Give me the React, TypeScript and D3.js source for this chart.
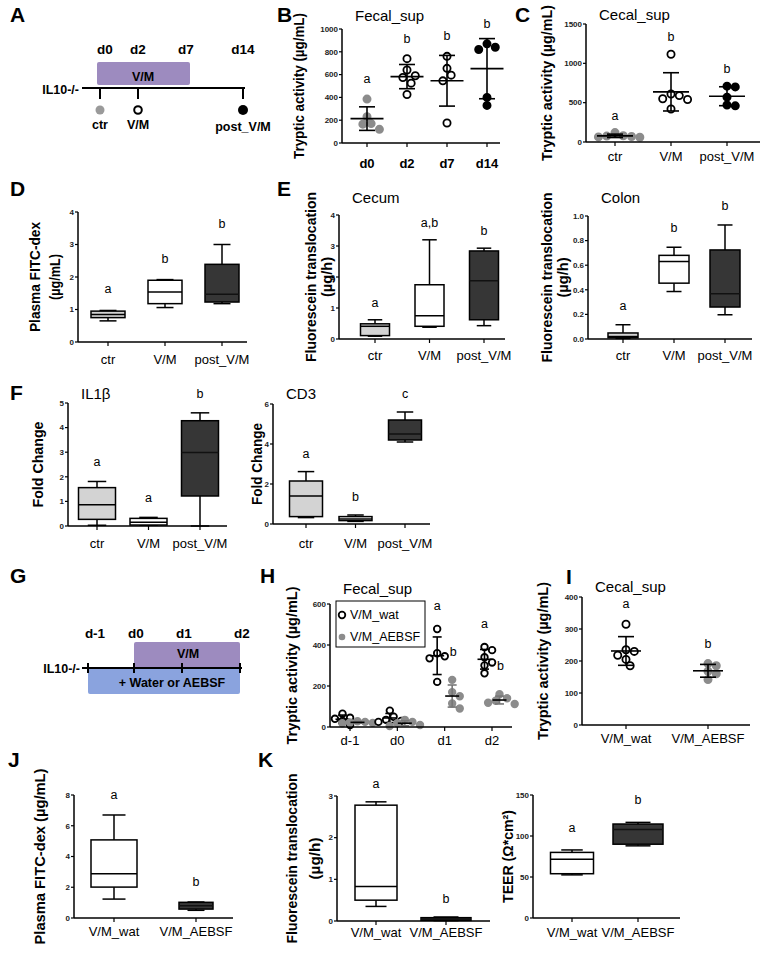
import * as d3 from "d3";

const FONT = "'Liberation Sans', Arial, Helvetica, sans-serif";
const LIGHT = "#d3d3d3";
const DARK = "#363636";
const GRAY_PT = "#8c8c8c";

// ---------- data ----------
// B: fecal tryptic activity over time
const fecalDays = ["d0", "d2", "d7", "d14"];
const fecalTryptic = [
  [385, 230, 170, 165, 120],
  [740, 640, 590, 575, 525, 425],
  [760, 655, 595, 545, 175],
  [870, 840, 820, 400, 330],
];
const fecalLetters = ["a", "b", "b", "b"];
const fecalTicks = [0, 200, 400, 600, 800, 1000];

// C: cecal tryptic activity
const groups3 = ["ctr", "V/M", "post_V/M"];
const cecalTryptic = [
  [60, 70, 65, 75, 80, 120],
  [1115, 610, 590, 550, 540, 420],
  [710, 700, 570, 470, 460],
];
const cecalLetters = ["a", "b", "b"];
const cecalTicks = [0, 500, 1000, 1500];

// D: plasma FITC-dextran  [min, q1, median, q3, max]
const plasmaBoxes = [
  [0.65, 0.75, 0.85, 0.95, 0.97],
  [1.06, 1.18, 1.54, 1.9, 1.92],
  [1.18, 1.23, 1.47, 2.39, 3.0],
];
const plasmaLetters = ["a", "b", "b"];
const plasmaTicks = [0, 1, 2, 3, 4];

// E: fluorescein translocation, cecum and colon
const cecumBoxes = [
  [0.09, 0.11, 0.41, 0.49, 0.62],
  [0.38, 0.41, 0.75, 1.75, 3.2],
  [0.43, 0.62, 1.88, 2.84, 2.93],
];
const cecumLetters = ["a", "a,b", "b"];
const cecumTicks = [0, 1, 2, 3, 4];

const colonBoxes = [
  [0.005, 0.01, 0.02, 0.049, 0.116],
  [0.386, 0.454, 0.63, 0.68, 0.746],
  [0.197, 0.26, 0.368, 0.724, 0.927],
];
const colonLetters = ["a", "b", "b"];
const colonTicks = [0, 0.2, 0.4, 0.6, 0.8, 1.0];

// F: fold change IL1β and CD3
const il1bBoxes = [
  [0.03, 0.27, 0.86, 1.56, 1.81],
  [0.03, 0.04, 0.15, 0.31, 0.35],
  [0.0, 1.22, 2.99, 4.28, 4.6],
];
const il1bLetters = ["a", "a", "b"];
const il1bTicks = [0, 1, 2, 3, 4, 5];

const cd3Boxes = [
  [0.32, 0.37, 1.4, 2.15, 2.62],
  [0.13, 0.17, 0.25, 0.37, 0.45],
  [4.1, 4.2, 4.5, 5.2, 5.6],
];
const cd3Letters = ["a", "b", "c"];
const cd3Ticks = [0, 2, 4, 6];

// H: fecal tryptic activity, water vs AEBSF
const aebsfDays = ["d-1", "d0", "d1", "d2"];
const fecalWat = [
  [65, 45, 40, 30, 10],
  [80, 50, 35, 30, 25],
  [478, 360, 345, 335, 220],
  [390, 375, 340, 315, 300, 262],
];
const fecalAebsf = [
  [28, 25, 22, 20, 18],
  [35, 25, 18, 10, 5],
  [230, 170, 150, 115, 90],
  [160, 140, 128, 118, 112],
];
const fecalWatLetters = ["", "", "a", "a"];
const fecalAebsfLetters = ["", "", "b", "b"];
const fecalAebsfTicks = [0, 200, 400, 600];

// I: cecal tryptic activity, water vs AEBSF
const treatments = ["V/M_wat", "V/M_AEBSF"];
const cecalAebsf = [
  [315, 235, 230, 218, 205, 185],
  [192, 185, 168, 160, 142],
];
const cecalAebsfLetters = ["a", "b"];
const cecalAebsfTicks = [0, 100, 200, 300, 400];

// J: plasma FITC-dextran, water vs AEBSF
const plasmaAebsfBoxes = [
  [1.23, 2.01, 2.88, 5.08, 6.7],
  [0.5, 0.58, 0.8, 1.02, 1.04],
];
const plasmaAebsfLetters = ["a", "b"];
const plasmaAebsfTicks = [0, 2, 4, 6, 8];

// K: fluorescein translocation and TEER
const fluoAebsfBoxes = [
  [0.35, 0.5, 0.83, 2.78, 2.86],
  [0.01, 0.016, 0.05, 0.08, 0.096],
];
const fluoAebsfLetters = ["a", "b"];
const fluoAebsfTicks = [0, 1, 2, 3];

const teerBoxes = [
  [52.6, 54, 71.7, 80, 83],
  [88, 90, 108, 114.6, 116.6],
];
const teerLetters = ["a", "b"];
const teerTicks = [0, 50, 100, 150];

// timelines (A, G)
const timelineDaysA = ["d0", "d2", "d7", "d14"];
const timelineValsA = [0, 2, 7, 14];
const sampleDaysA = [0, 2, 14];
const sampleGroupsA = ["ctr", "V/M", "post_V/M"];
const timelineDaysG = ["d-1", "d0", "d1", "d2"];
const timelineValsG = [-1, 0, 1, 2];

// ---------- helpers ----------
type Cfg = {
  ax: number;
  axEnd: number;
  catRange: [number, number];
  yRange: [number, number];
  domain: [number, number];
  ticks: number[];
  fmt?: (v: number) => string;
  title?: string;
  titleY?: number;
  ylabel: string[];
  ylabelX: number[];
  ylabelLen?: number[];
  xBold?: boolean;
  xLabelY: number;
};

function scalesFor(cfg: Cfg, cats: string[]) {
  const x = d3.scalePoint<string>().domain(cats).range(cfg.catRange);
  const y = d3.scaleLinear().domain(cfg.domain).range(cfg.yRange);
  return { x, y };
}

function Axes({ cfg, cats }: { cfg: Cfg; cats: string[] }) {
  const { x, y } = scalesFor(cfg, cats);
  const fmt = cfg.fmt ?? d3.format("d");
  const y0 = y(cfg.domain[0]);
  const yTop = y(cfg.ticks[cfg.ticks.length - 1]);
  const midY = (y0 + yTop) / 2;
  return (
    <g>
      <line x1={cfg.ax} x2={cfg.ax} y1={y0} y2={yTop} stroke="#000" strokeWidth={1.5} />
      {cfg.ticks.map((t) => (
        <g key={t}>
          <line x1={cfg.ax - 3} x2={cfg.ax} y1={y(t)} y2={y(t)} stroke="#000" strokeWidth={1.2} />
          <text x={cfg.ax - 4} y={y(t)} dy="0.35em" textAnchor="end" fontSize={8} fontWeight="bold" fill="#222">
            {fmt(t)}
          </text>
        </g>
      ))}
      <line x1={cfg.ax} x2={cfg.axEnd} y1={y0} y2={y0} stroke="#000" strokeWidth={1.5} />
      {cats.map((c) => (
        <g key={c}>
          <line x1={x(c)!} x2={x(c)!} y1={y0} y2={y0 + 4} stroke="#000" strokeWidth={1.2} />
          <text x={x(c)!} y={cfg.xLabelY} textAnchor="middle" fontSize={13} fontWeight={cfg.xBold ? "bold" : "normal"}>
            {c}
          </text>
        </g>
      ))}
      {cfg.title && (
        <text x={cfg.ax + 13} y={cfg.titleY} fontSize={15}>
          {cfg.title}
        </text>
      )}
      {cfg.ylabel.map((l, i) => (
        <text
          key={l}
          transform={`translate(${cfg.ylabelX[i]},${midY}) rotate(-90)`}
          dy="0.35em"
          textAnchor="middle"
          fontSize={14}
          fontWeight="bold"
          textLength={cfg.ylabelLen ? cfg.ylabelLen[i] : undefined}
          lengthAdjust="spacingAndGlyphs"
        >
          {l}
        </text>
      ))}
    </g>
  );
}

function BoxPanel({
  cfg, cats, boxes, fills, letters, boxW, gap = 16,
}: {
  cfg: Cfg; cats: string[]; boxes: number[][]; fills: string[]; letters: string[];
  boxW: number | number[]; gap?: number;
}) {
  const { x, y } = scalesFor(cfg, cats);
  return (
    <g>
      {boxes.map((b, i) => {
        const [mn, q1, md, q3, mx] = b;
        const cx = x(cats[i])!;
        const w = Array.isArray(boxW) ? boxW[i] : boxW;
        const cw = w * 0.5;
        return (
          <g key={i} stroke="#000" strokeWidth={1.5}>
            <line x1={cx} x2={cx} y1={y(mx)} y2={y(q3)} />
            <line x1={cx} x2={cx} y1={y(q1)} y2={y(mn)} />
            <line x1={cx - cw / 2} x2={cx + cw / 2} y1={y(mx)} y2={y(mx)} />
            <line x1={cx - cw / 2} x2={cx + cw / 2} y1={y(mn)} y2={y(mn)} />
            <rect x={cx - w / 2} y={y(q3)} width={w} height={Math.max(1, y(q1) - y(q3))} fill={fills[i]} />
            <line x1={cx - w / 2} x2={cx + w / 2} y1={y(md)} y2={y(md)} stroke={fills[i] === DARK ? "#111" : "#000"} />
            <text x={cx} y={y(mx) - gap} textAnchor="middle" fontSize={12.5} stroke="none" fill="#000">
              {letters[i]}
            </text>
          </g>
        );
      })}
      <Axes cfg={cfg} cats={cats} />
    </g>
  );
}

// simple deterministic beeswarm: horizontal offsets that avoid overlap
function swarm(ys: number[], r: number): number[] {
  const order = d3.range(ys.length).sort((a, b) => ys[a] - ys[b]);
  const placed: { dx: number; y: number }[] = [];
  const out = new Array(ys.length).fill(0);
  const step = r * 1.15;
  for (const i of order) {
    for (let k = 0; k < 30; k++) {
      const dx = k === 0 ? 0 : (k % 2 ? 1 : -1) * Math.ceil(k / 2) * step;
      if (placed.every((p) => Math.hypot(p.dx - dx, p.y - ys[i]) >= 2 * r + 0.4)) {
        out[i] = dx;
        placed.push({ dx, y: ys[i] });
        break;
      }
    }
  }
  return out;
}

type Kind = "open" | "gray" | "black";

function DotGroup({
  values, cx, y, kind, r = 3.6, meanW = 32, capW = 16, barColor = "#000",
}: {
  values: number[]; cx: number; y: d3.ScaleLinear<number, number>; kind: Kind;
  r?: number; meanW?: number; capW?: number; barColor?: string;
}) {
  const m = d3.mean(values)!;
  const s = d3.deviation(values)!;
  const ys = values.map((v) => y(v));
  const dx = swarm(ys, r);
  const fill = kind === "open" ? "#fff" : kind === "gray" ? GRAY_PT : "#000";
  const stroke = kind === "gray" ? GRAY_PT : "#000";
  return (
    <g>
      {values.map((v, i) => (
        <circle key={i} cx={cx + dx[i]} cy={ys[i]} r={r} fill={fill} stroke={stroke} strokeWidth={1.8} />
      ))}
      <g stroke={barColor} strokeWidth={1.6}>
        <line x1={cx} x2={cx} y1={y(m + s)} y2={y(Math.max(0, m - s))} />
        <line x1={cx - capW / 2} x2={cx + capW / 2} y1={y(m + s)} y2={y(m + s)} />
        <line x1={cx - capW / 2} x2={cx + capW / 2} y1={y(Math.max(0, m - s))} y2={y(Math.max(0, m - s))} />
        <line x1={cx - meanW / 2} x2={cx + meanW / 2} y1={y(m)} y2={y(m)} stroke="#000" />
      </g>
    </g>
  );
}

function DotPanel({
  cfg, cats, groups, kinds, letters, gap = 16, meanW, capW,
}: {
  cfg: Cfg; cats: string[]; groups: number[][]; kinds: Kind[]; letters: string[];
  gap?: number; meanW?: number; capW?: number;
}) {
  const { x, y } = scalesFor(cfg, cats);
  return (
    <g>
      {groups.map((vals, i) => (
        <g key={i}>
          <DotGroup values={vals} cx={x(cats[i])!} y={y} kind={kinds[i]} meanW={meanW} capW={capW} />
          <text x={x(cats[i])!} y={y(d3.max(vals)!) - gap} textAnchor="middle" fontSize={12.5}>
            {letters[i]}
          </text>
        </g>
      ))}
      <Axes cfg={cfg} cats={cats} />
    </g>
  );
}

function PanelLetter({ x, y, t }: { x: number; y: number; t: string }) {
  return (
    <text x={x} y={y} fontSize={21} fontWeight="bold">
      {t}
    </text>
  );
}

// ---------- panel layouts ----------
const cfgB: Cfg = {
  ax: 342, axEnd: 500, catRange: [367, 487], yRange: [143, 29], domain: [0, 1000], ticks: fecalTicks,
  title: "Fecal_sup", titleY: 21, ylabel: ["Tryptic activity (µg/mL)"], ylabelX: [299], ylabelLen: [146],
  xBold: true, xLabelY: 168,
};
const cfgC: Cfg = {
  ax: 586, axEnd: 760, catRange: [615, 727], yRange: [142, 24], domain: [0, 1500], ticks: cecalTicks,
  title: "Cecal_sup", titleY: 20, ylabel: ["Tryptic activity (µg/mL)"], ylabelX: [547], ylabelLen: [156],
  xLabelY: 161,
};
const cfgD: Cfg = {
  ax: 78, axEnd: 247, catRange: [108, 222], yRange: [342, 212], domain: [0, 4], ticks: plasmaTicks,
  ylabel: ["Plasma FITC-dex", "(µg/mL)"], ylabelX: [35, 55], ylabelLen: [110, 46], xLabelY: 364,
};
const cfgCecum: Cfg = {
  ax: 339, axEnd: 505, catRange: [375, 484], yRange: [339, 215], domain: [0, 4], ticks: cecumTicks,
  title: "Cecum", titleY: 203, ylabel: ["Fluorescein translocation", "(µg/h)"], ylabelX: [311, 327],
  ylabelLen: [170, 40], xLabelY: 360,
};
const cfgColon: Cfg = {
  ax: 588, axEnd: 752, catRange: [623, 725], yRange: [339, 216], domain: [0, 1], ticks: colonTicks,
  fmt: d3.format(".1f"), title: "Colon", titleY: 203, ylabel: ["Fluorescein translocation", "(µg/h)"],
  ylabelX: [547, 563], ylabelLen: [170, 40], xLabelY: 360,
};
const cfgIl1b: Cfg = {
  ax: 68, axEnd: 227, catRange: [97, 200], yRange: [526, 403], domain: [0, 5], ticks: il1bTicks,
  title: "IL1β", titleY: 399, ylabel: ["Fold Change"], ylabelX: [38], ylabelLen: [86], xLabelY: 548,
};
const cfgCd3: Cfg = {
  ax: 273, axEnd: 430, catRange: [306, 405], yRange: [524, 404], domain: [0, 6], ticks: cd3Ticks,
  title: "CD3", titleY: 399, ylabel: ["Fold Change"], ylabelX: [257], ylabelLen: [82], xLabelY: 548,
};
const cfgH: Cfg = {
  ax: 330, axEnd: 512, catRange: [350, 492], yRange: [727, 604], domain: [0, 600], ticks: fecalAebsfTicks,
  title: "Fecal_sup", titleY: 594, ylabel: ["Tryptic activity (µg/mL)"], ylabelX: [292], ylabelLen: [158],
  xLabelY: 745,
};
const cfgI: Cfg = {
  ax: 582, axEnd: 750, catRange: [626, 708], yRange: [725, 597], domain: [0, 400], ticks: cecalAebsfTicks,
  title: "Cecal_sup", titleY: 592, ylabel: ["Tryptic activity (µg/mL)"], ylabelX: [543], ylabelLen: [158],
  xLabelY: 743,
};
const cfgJ: Cfg = {
  ax: 74, axEnd: 233, catRange: [114, 196], yRange: [918, 795], domain: [0, 8], ticks: plasmaAebsfTicks,
  ylabel: ["Plasma FITC-dex  (µg/mL)"], ylabelX: [40], ylabelLen: [176], xLabelY: 936,
};
const cfgK1: Cfg = {
  ax: 337, axEnd: 490, catRange: [376, 446], yRange: [921, 796], domain: [0, 3], ticks: fluoAebsfTicks,
  ylabel: ["Fluorescein translocation", "(µg/h)"], ylabelX: [292, 315], ylabelLen: [170, 42], xLabelY: 937,
};
const cfgK2: Cfg = {
  ax: 533, axEnd: 680, catRange: [572, 638], yRange: [918, 795], domain: [0, 150], ticks: teerTicks,
  ylabel: ["TEER (Ω*cm²)"], ylabelX: [508], ylabelLen: [93], xLabelY: 937,
};

// ---------- schematic timelines ----------
function TimelineA() {
  const x = d3.scaleLinear().domain(timelineValsA).range([100, 138, 186, 243]);
  const lineY = 88;
  const kinds = [
    { fill: "#9a9a9a", stroke: "none", r: 4.5 },
    { fill: "#fff", stroke: "#000", r: 3.8 },
    { fill: "#000", stroke: "none", r: 5 },
  ];
  return (
    <g fontWeight="bold">
      <rect x={x(0) - 3} y={62} width={x(7) - x(0) + 7} height={23} rx={2} fill="#9d8bbf" />
      <text x={(x(0) + x(7)) / 2} y={81} textAnchor="middle" fontSize={12.5}>V/M</text>
      {timelineDaysA.map((d, i) => (
        <text key={d} x={x(timelineValsA[i]) + (i === 0 ? 5 : 0)} y={54} textAnchor="middle" fontSize={13.5}>
          {d}
        </text>
      ))}
      <text x={79} y={94} textAnchor="end" fontSize={12.5}>IL10-/-</text>
      <line x1={82} x2={x(14) + 2} y1={lineY} y2={lineY} stroke="#000" strokeWidth={2} />
      {sampleDaysA.map((d, i) => (
        <g key={d}>
          <line x1={x(d)} x2={x(d)} y1={lineY} y2={lineY + 11} stroke="#000" strokeWidth={2} />
          <circle cx={x(d)} cy={110} r={kinds[i].r} fill={kinds[i].fill} stroke={kinds[i].stroke} strokeWidth={2} />
          <text x={x(d)} y={i === 2 ? 131 : 129} textAnchor="middle" fontSize={12.5}>
            {sampleGroupsA[i]}
          </text>
        </g>
      ))}
    </g>
  );
}

function TimelineG() {
  const x = d3.scaleLinear().domain(timelineValsG).range([88, 134, 182, 240]);
  const lineY = 668;
  return (
    <g fontWeight="bold">
      <rect x={x(0)} y={642} width={x(2) - x(0)} height={lineY - 642} rx={2} fill="#9d8bbf" />
      <rect x={x(-1)} y={lineY} width={x(2) - x(-1)} height={26} rx={2} fill="#8aa3de" />
      <text x={(x(0) + x(2)) / 2 + 1} y={658} textAnchor="middle" fontSize={12.5}>V/M</text>
      <text x={(x(-1) + x(2)) / 2 + 8} y={687} textAnchor="middle" fontSize={12.5}>+ Water or  AEBSF</text>
      {timelineDaysG.map((d, i) => (
        <text key={d} x={x(timelineValsG[i]) + (i === 0 ? 7 : 2)} y={638} textAnchor="middle" fontSize={13.5}>
          {d}
        </text>
      ))}
      <text x={80} y={673} textAnchor="end" fontSize={12.5}>IL10-/-</text>
      <line x1={82} x2={x(2) + 2} y1={lineY} y2={lineY} stroke="#000" strokeWidth={2} />
      {timelineValsG.map((v) => (
        <line key={v} x1={x(v)} x2={x(v)} y1={lineY - 5} y2={lineY + 5} stroke="#000" strokeWidth={2} />
      ))}
    </g>
  );
}

// ---------- H: grouped dot plot with legend ----------
function PanelH() {
  const { x, y } = scalesFor(cfgH, aebsfDays);
  const off = 7.5;
  return (
    <g>
      {aebsfDays.map((d, i) => (
        <g key={d}>
          <DotGroup values={fecalWat[i]} cx={x(d)! - off} y={y} kind="open" r={3.3} meanW={14} capW={9} />
          <DotGroup values={fecalAebsf[i]} cx={x(d)! + off} y={y} kind="gray" r={3.3} meanW={14} capW={9} barColor="#777" />
          <text x={x(d)! - off} y={y(d3.max(fecalWat[i])!) - 19} textAnchor="middle" fontSize={12.5}>
            {fecalWatLetters[i]}
          </text>
          <text x={x(d)! + off + 1} y={y(d3.max(fecalAebsf[i])!) - 24} textAnchor="middle" fontSize={12.5}>
            {fecalAebsfLetters[i]}
          </text>
        </g>
      ))}
      <Axes cfg={cfgH} cats={aebsfDays} />
      <g>
        <rect x={336} y={601} width={89} height={46} fill="#fff" stroke="#000" strokeWidth={1} />
        <circle cx={342} cy={615} r={3.3} fill="#fff" stroke="#000" strokeWidth={1.8} />
        <text x={350} y={619} fontSize={12.5}>{treatments[0]}</text>
        <circle cx={342} cy={637} r={3.3} fill={GRAY_PT} />
        <text x={350} y={641} fontSize={12.5}>{treatments[1]}</text>
      </g>
    </g>
  );
}

export default function App() {
  return (
    <svg
      width={765}
      height={954}
      style={{ position: "absolute", left: 0, top: 0, display: "block" }}
      fontFamily={FONT}
    >
      <rect width={765} height={954} fill="#fff" />

      <PanelLetter x={10} y={22} t="A" />
      <TimelineA />

      <PanelLetter x={277} y={22} t="B" />
      <DotPanel cfg={cfgB} cats={fecalDays} groups={fecalTryptic} kinds={["gray", "open", "open", "black"]} letters={fecalLetters} meanW={33} capW={16} />

      <PanelLetter x={515} y={22} t="C" />
      <DotPanel cfg={cfgC} cats={groups3} groups={cecalTryptic} kinds={["gray", "open", "black"]} letters={cecalLetters} gap={13} meanW={36} capW={16} />

      <PanelLetter x={10} y={196} t="D" />
      <BoxPanel cfg={cfgD} cats={groups3} boxes={plasmaBoxes} fills={[LIGHT, "#fff", DARK]} letters={plasmaLetters} boxW={34} gap={17} />

      <PanelLetter x={277} y={196} t="E" />
      <BoxPanel cfg={cfgCecum} cats={groups3} boxes={cecumBoxes} fills={[LIGHT, "#fff", DARK]} letters={cecumLetters} boxW={29} gap={13} />
      <BoxPanel cfg={cfgColon} cats={groups3} boxes={colonBoxes} fills={[LIGHT, "#fff", DARK]} letters={colonLetters} boxW={30} gap={15} />

      <PanelLetter x={10} y={400} t="F" />
      <BoxPanel cfg={cfgIl1b} cats={groups3} boxes={il1bBoxes} fills={[LIGHT, "#fff", DARK]} letters={il1bLetters} boxW={37} gap={15} />
      <BoxPanel cfg={cfgCd3} cats={groups3} boxes={cd3Boxes} fills={[LIGHT, "#fff", DARK]} letters={cd3Letters} boxW={33} gap={14} />

      <PanelLetter x={10} y={583} t="G" />
      <TimelineG />

      <PanelLetter x={260} y={583} t="H" />
      <PanelH />

      <PanelLetter x={566} y={584} t="I" />
      <DotPanel cfg={cfgI} cats={treatments} groups={cecalAebsf} kinds={["open", "gray"]} letters={cecalAebsfLetters} meanW={30} capW={16} />

      <PanelLetter x={8} y={767} t="J" />
      <BoxPanel cfg={cfgJ} cats={treatments} boxes={plasmaAebsfBoxes} fills={["#fff", DARK]} letters={plasmaAebsfLetters} boxW={[46, 34]} gap={16} />

      <PanelLetter x={258} y={767} t="K" />
      <BoxPanel cfg={cfgK1} cats={treatments} boxes={fluoAebsfBoxes} fills={["#fff", DARK]} letters={fluoAebsfLetters} boxW={[42, 50]} gap={14} />
      <BoxPanel cfg={cfgK2} cats={treatments} boxes={teerBoxes} fills={["#fff", DARK]} letters={teerLetters} boxW={[43, 50]} gap={18} />
    </svg>
  );
}
